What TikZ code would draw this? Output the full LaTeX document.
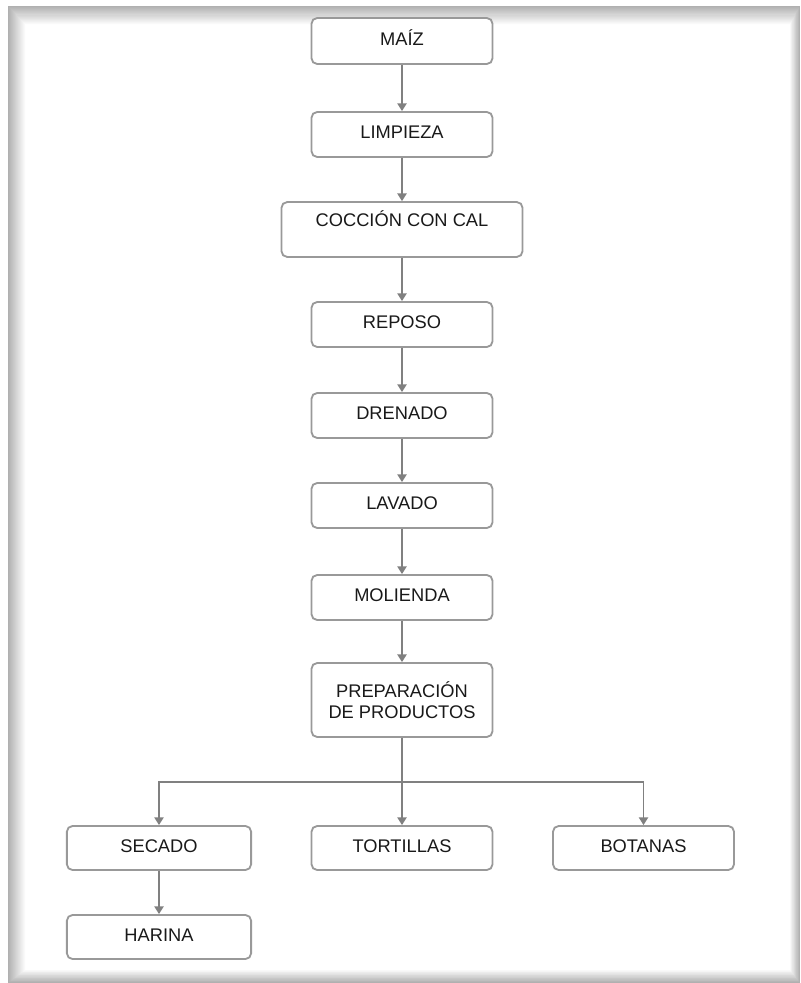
\documentclass[tikz,border=0pt]{standalone}
\usepackage{fontspec}
\setmainfont{Liberation Sans}
\usetikzlibrary{arrows.meta}

\tikzset{
    box/.style={draw=gray!80, line width=1.3pt, rounded corners=4pt, fill=white,
        minimum width=128.7pt, minimum height=32pt, inner sep=0pt, align=center,
        text height=10pt, text depth=4.3pt, text=black!90,
        font=\fontsize{13}{15}\selectfont},
    flow/.style={draw=gray, line width=1.3pt, -{Triangle[length=5.5pt,width=6.5pt]}},
}

\begin{document}
\begin{tikzpicture}[x=0.025cm, y=-0.025cm]
    \useasboundingbox (0,0) rectangle (800,983);
    % frame with shadow
    \fill[white] (0,0) rectangle (800,983);
    \foreach \i in {0,...,17}{
        \pgfmathsetmacro{\shade}{62-3.6*\i}
        \fill[gray!\shade] (8+\i,6+\i*18/17) rectangle (800-\i*10/17,983-\i*13/17);
    }
    \fill[white] (26,25) rectangle (790,970);

    % main column
    \node[box, minimum height=32.7pt] (maiz) at (402,41) {MAÍZ};
    \node[box] (limpieza) at (402,134.5) {LIMPIEZA};
    \node[box, minimum width=171.4pt, minimum height=39pt, text depth=14.2pt] (coccion) at (402,229.5) {COCCIÓN CON CAL};
    \node[box] (reposo) at (402,324.5) {REPOSO};
    \node[box] (drenado) at (402,415.5) {DRENADO};
    \node[box] (lavado) at (402,505.5) {LAVADO};
    \node[box] (molienda) at (402,597.5) {MOLIENDA};
    \node[box, minimum height=52.6pt, text height={}, text depth={}] (prep) at (402,700) {PREPARACIÓN\\DE PRODUCTOS};

    % products
    \node[box, minimum width=131pt, minimum height=31.3pt] (secado) at (159,848) {SECADO};
    \node[box, minimum height=31.3pt] (tortillas) at (402,848) {TORTILLAS};
    \node[box, minimum height=31.3pt] (botanas) at (643.5,848) {BOTANAS};
    \node[box, minimum width=131pt, minimum height=31.3pt] (harina) at (159,937) {HARINA};
    \coordinate (split) at (402,782);

    \draw[flow] (maiz) -- (limpieza);
    \draw[flow] (limpieza) -- (coccion);
    \draw[flow] (coccion) -- (reposo);
    \draw[flow] (reposo) -- (drenado);
    \draw[flow] (drenado) -- (lavado);
    \draw[flow] (lavado) -- (molienda);
    \draw[flow] (molienda) -- (prep);
    \draw[flow] (prep) -- (tortillas);
    \draw[flow] (split) -| (secado);
    \draw[flow] (split) -| (botanas);
    \draw[flow] (secado) -- (harina);
\end{tikzpicture}
\end{document}
